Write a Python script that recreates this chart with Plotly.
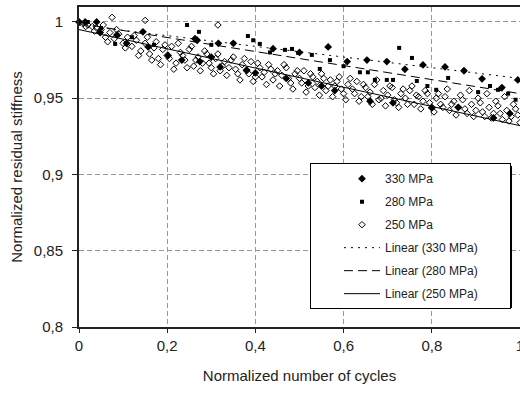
import plotly.graph_objects as go

# ---------------- data ----------------
x330 = [0.0, 0.014, 0.04, 0.048, 0.086, 0.108, 0.145, 0.157, 0.202, 0.233, 0.263, 0.268, 0.274, 0.30,
        0.316, 0.32, 0.35, 0.38, 0.40, 0.44, 0.47, 0.50, 0.52, 0.55, 0.565, 0.58, 0.608, 0.653, 0.66,
        0.698, 0.712, 0.739, 0.78, 0.80, 0.83, 0.86, 0.873, 0.914, 0.94, 0.959, 0.977, 0.995]
y330 = [1.0, 1.0, 1.0, 0.993, 0.9915, 0.986, 0.9935, 0.9836, 0.978, 0.975, 0.989, 0.988, 0.974, 0.977,
        0.986, 0.9705, 0.986, 0.9685, 0.9666, 0.9825, 0.963, 0.980, 0.960, 0.958, 0.9836, 0.955, 0.974,
        0.975, 0.948, 0.974, 0.947, 0.969, 0.9718, 0.9436, 0.9705, 0.944, 0.968, 0.9627, 0.9371, 0.957,
        0.940, 0.962]

x280 = [0.0, 0.02, 0.05, 0.082, 0.12, 0.17, 0.245, 0.272, 0.30, 0.35, 0.383, 0.395, 0.41, 0.433, 0.467,
        0.483, 0.497, 0.528, 0.546, 0.569, 0.60, 0.637, 0.655, 0.671, 0.698, 0.712, 0.726, 0.755,
        0.766, 0.79, 0.81, 0.837, 0.873, 0.905, 0.932, 0.95, 0.973, 0.99]
y280 = [1.0, 1.0, 0.996, 0.9856, 0.990, 0.985, 0.998, 0.9935, 0.985, 0.986, 0.9908, 0.988, 0.9856, 0.980,
        0.9817, 0.9823, 0.9797, 0.9784, 0.9692, 0.975, 0.971, 0.967, 0.967, 0.962, 0.962, 0.962, 0.983,
        0.9764, 0.9613, 0.958, 0.9555, 0.9633, 0.968, 0.954, 0.958, 0.9555, 0.953, 0.949]

x250 = [0.00, 0.01, 0.02, 0.03, 0.04, 0.05, 0.06, 0.07, 0.08, 0.09, 0.10, 0.11, 0.12, 0.13, 0.14, 0.15,
        0.16, 0.17, 0.18, 0.19, 0.20, 0.21, 0.22, 0.23, 0.24, 0.25, 0.26, 0.27, 0.28, 0.29, 0.30, 0.31,
        0.32, 0.33, 0.34, 0.35, 0.36, 0.37, 0.38, 0.39, 0.40, 0.41, 0.42, 0.43, 0.44, 0.45, 0.46, 0.47,
        0.48, 0.49, 0.50, 0.51, 0.52, 0.53, 0.54, 0.55, 0.56, 0.57, 0.58, 0.59, 0.60, 0.61, 0.62, 0.63,
        0.64, 0.65, 0.66, 0.67, 0.68, 0.69, 0.70, 0.71, 0.72, 0.73, 0.74, 0.75, 0.76, 0.77, 0.78, 0.79,
        0.80, 0.81, 0.82, 0.83, 0.84, 0.85, 0.86, 0.87, 0.88, 0.89, 0.90, 0.91, 0.92, 0.93, 0.94, 0.95,
        0.96, 0.97, 0.98, 0.99, 1.00,
        0.015, 0.035, 0.055, 0.065, 0.085, 0.105, 0.125, 0.135, 0.155, 0.165, 0.175, 0.185, 0.195, 0.205,
        0.215, 0.225, 0.235, 0.245, 0.255, 0.265, 0.275, 0.285, 0.295, 0.305, 0.315, 0.325, 0.335, 0.345,
        0.355, 0.365, 0.375, 0.385, 0.395, 0.405, 0.415, 0.425, 0.435, 0.445, 0.455, 0.465, 0.475, 0.485,
        0.495, 0.505, 0.515, 0.525, 0.535, 0.545, 0.555, 0.565, 0.575, 0.585, 0.595, 0.605, 0.615, 0.625,
        0.635, 0.645, 0.655, 0.665, 0.675, 0.685, 0.695, 0.705, 0.715, 0.725, 0.735, 0.745, 0.755, 0.765,
        0.775, 0.785, 0.795, 0.805, 0.815, 0.825, 0.835, 0.845, 0.855, 0.865, 0.875, 0.885, 0.895, 0.905,
        0.915, 0.925, 0.935, 0.945, 0.955, 0.965, 0.975, 0.985, 0.995,
        0.075, 0.15, 0.315]
y250 = [1.000, 0.999, 0.998, 0.997, 0.996, 0.995, 0.990, 0.993, 0.989, 0.992, 0.986, 0.990, 0.984, 0.988,
        0.981, 0.986, 0.979, 0.983, 0.976, 0.982, 0.978, 0.984, 0.973, 0.980, 0.975, 0.982, 0.971, 0.977,
        0.973, 0.979, 0.970, 0.976, 0.968, 0.974, 0.970, 0.977, 0.966, 0.972, 0.968, 0.974, 0.964, 0.970,
        0.967, 0.972, 0.962, 0.968, 0.965, 0.970, 0.960, 0.966, 0.963, 0.968, 0.958, 0.964, 0.961, 0.966,
        0.955, 0.962, 0.958, 0.964, 0.953, 0.959, 0.956, 0.961, 0.951, 0.957, 0.954, 0.959, 0.949, 0.955,
        0.952, 0.957, 0.947, 0.953, 0.950, 0.955, 0.946, 0.951, 0.948, 0.953, 0.944, 0.950, 0.946, 0.951,
        0.942, 0.948, 0.944, 0.949, 0.940, 0.946, 0.942, 0.947, 0.938, 0.944, 0.940, 0.945, 0.936, 0.942,
        0.938, 0.943, 0.934,
        0.997, 0.994, 0.998, 0.987, 0.995, 0.983, 0.991, 0.978, 0.990, 0.975, 0.987, 0.972, 0.985, 0.976,
        0.969, 0.986, 0.978, 0.970, 0.984, 0.975, 0.968, 0.981, 0.973, 0.966, 0.979, 0.971, 0.965, 0.975,
        0.969, 0.962, 0.976, 0.966, 0.961, 0.973, 0.964, 0.959, 0.969, 0.966, 0.958, 0.972, 0.963, 0.956,
        0.968, 0.960, 0.954, 0.966, 0.957, 0.952, 0.963, 0.958, 0.951, 0.961, 0.956, 0.949, 0.963, 0.953,
        0.948, 0.959, 0.951, 0.946, 0.962, 0.950, 0.945, 0.958, 0.949, 0.944, 0.956, 0.946, 0.958, 0.952,
        0.943, 0.955, 0.947, 0.941, 0.953, 0.944, 0.956, 0.946, 0.939, 0.952, 0.943, 0.955, 0.938, 0.950,
        0.941, 0.953, 0.937, 0.948, 0.940, 0.951, 0.935, 0.946, 0.939,
        1.003, 1.001, 0.998]

# linear trend lines (values read at x = 0 and x = 1)
trend_x = [0.0, 1.0]
trend330 = [0.998, 0.963]
trend280 = [0.999, 0.953]
trend250 = [0.995, 0.932]

xtick_vals = [0, 0.2, 0.4, 0.6, 0.8, 1]
xtick_text = ["0", "0,2", "0,4", "0,6", "0,8", "1"]
ytick_vals = [0.8, 0.85, 0.9, 0.95, 1]
ytick_text = ["0,8", "0,85", "0,9", "0,95", "1"]

# ---------------- figure ----------------
fig = go.Figure()
PAD = "\u00a0" * 8  # keeps the legend box as wide as in the original

fig.add_trace(go.Scatter(x=x250, y=y250, mode="markers", name="250 MPa", legendrank=3, legendgroup="c",
                         cliponaxis=False,
                         marker=dict(symbol="diamond-open", size=5, color="black", line=dict(width=1))))
fig.add_trace(go.Scatter(x=x280, y=y280, mode="markers", name="280 MPa", legendrank=2, legendgroup="b",
                         cliponaxis=False,
                         marker=dict(symbol="square", size=4, color="black")))
fig.add_trace(go.Scatter(x=x330, y=y330, mode="markers", name="330 MPa", legendrank=1, legendgroup="a",
                         cliponaxis=False,
                         marker=dict(symbol="diamond", size=6, color="black")))

fig.add_trace(go.Scatter(x=trend_x, y=trend330, mode="lines", name="Linear (330 MPa)" + PAD, legendrank=4,
                         legendgroup="d", line=dict(color="black", width=1, dash="2px,5px")))
fig.add_trace(go.Scatter(x=trend_x, y=trend280, mode="lines", name="Linear (280 MPa)" + PAD, legendrank=5,
                         legendgroup="e", line=dict(color="black", width=1, dash="9px,5px")))
fig.add_trace(go.Scatter(x=trend_x, y=trend250, mode="lines", name="Linear (250 MPa)" + PAD, legendrank=6,
                         legendgroup="f", line=dict(color="black", width=1)))

axis_font = dict(family="Liberation Sans, Arial, sans-serif", size=15, color="#222")

# legend drop shadow (paper coordinates of the plot area)
fig.add_shape(type="rect", xref="paper", yref="paper", layer="above",
              x0=0.5283, x1=0.9819, y0=0.0594, y1=0.5031,
              fillcolor="black", line=dict(width=0))

fig.update_layout(
    width=520, height=394,
    margin=dict(l=79, r=0, t=7, b=67, autoexpand=False),
    paper_bgcolor="white", plot_bgcolor="white",
    separators=",.",
    showlegend=True,
    legend=dict(x=0.5238, y=0.512, xanchor="left", yanchor="top",
                bgcolor="white", bordercolor="black", borderwidth=1,
                font=dict(family="Liberation Sans, Arial, sans-serif", size=12, color="#222"),
                tracegroupgap=4, itemwidth=36, indentation=28),
    xaxis=dict(range=[0, 1], tickvals=xtick_vals, ticktext=xtick_text, tickfont=axis_font,
               ticklabeloverflow="allow", automargin=False,
               showgrid=True, gridcolor="#999", griddash="5px,3px", gridwidth=1,
               showline=True, linecolor="#222", linewidth=2, mirror=True,
               ticks="outside", ticklen=4, tickcolor="#222", zeroline=False,
               title=dict(text="Normalized number of cycles",
                          font=dict(family="Liberation Sans, Arial, sans-serif", size=15, color="#222"),
                          standoff=17)),
    yaxis=dict(range=[0.8, 1.0098], tickvals=ytick_vals, ticktext=ytick_text, tickfont=axis_font,
               automargin=False,
               showgrid=True, gridcolor="#999", griddash="5px,3px", gridwidth=1,
               showline=True, linecolor="#222", linewidth=2,
               ticks="outside", ticklen=5, tickcolor="#222", zeroline=False, ticklabelstandoff=6,
               title=dict(text="Normalized residual stiffness",
                          font=dict(family="Liberation Sans, Arial, sans-serif", size=15, color="#222"),
                          standoff=8)),
)

fig.write_html("out.html")
